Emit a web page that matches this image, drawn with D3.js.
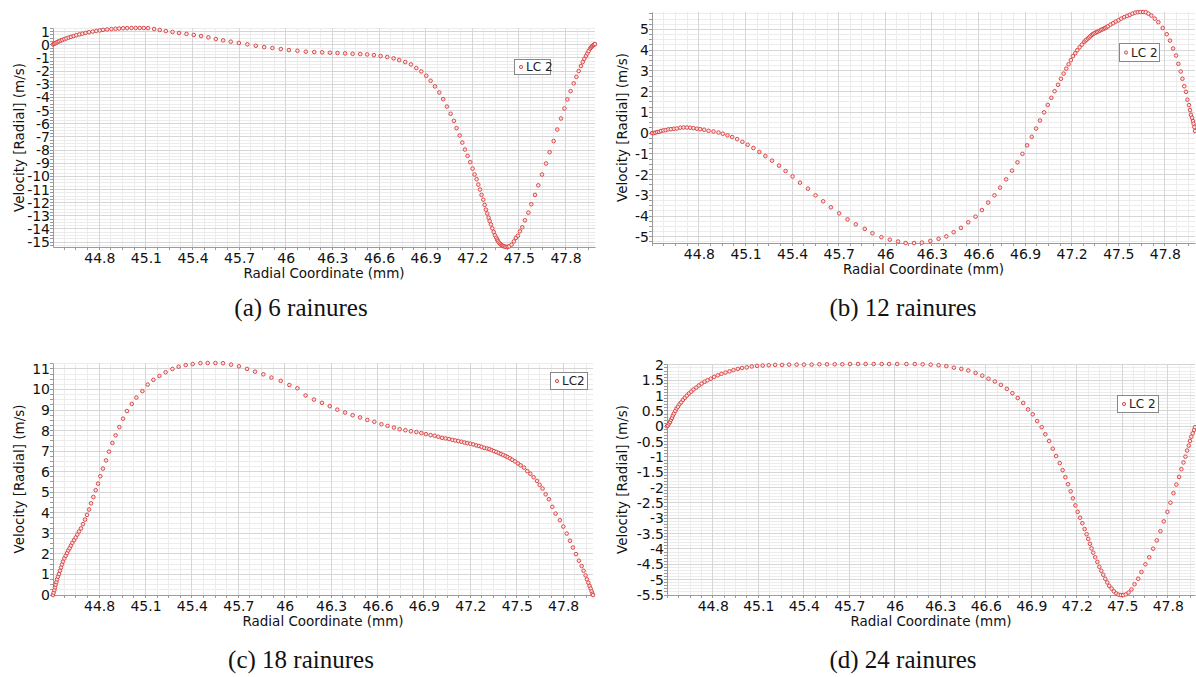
<!DOCTYPE html>
<html><head><meta charset="utf-8">
<script src="https://cdn.jsdelivr.net/npm/d3@7"></script>
<style>body{margin:0;background:#fff}svg{display:block}</style>
</head><body>
<svg id="c" width="1196" height="677"></svg>
<script>
// ---------- data ----------
const dataA = [
[44.502,0.03],[44.509,0.08],[44.515,0.12],[44.524,0.17],[44.532,0.22],[44.541,0.27],[44.552,0.32],[44.562,0.37],[44.575,0.43],[44.588,0.49],
[44.603,0.55],[44.618,0.61],[44.635,0.67],[44.652,0.73],[44.672,0.79],[44.691,0.85],[44.712,0.91],[44.734,0.96],[44.758,1.01],[44.781,1.06],
[44.803,1.10],[44.824,1.14],[44.850,1.17],[44.878,1.20],[44.904,1.22],[44.927,1.24],[44.953,1.26],[44.979,1.27],[45.007,1.28],[45.034,1.28],
[45.060,1.28],[45.086,1.28],[45.114,1.27],[45.153,1.20],[45.189,1.13],[45.228,1.05],[45.271,0.98],[45.313,0.90],[45.361,0.83],[45.408,0.75],
[45.455,0.67],[45.502,0.57],[45.550,0.44],[45.597,0.34],[45.646,0.24],[45.698,0.14],[45.753,0.04],[45.807,-0.07],[45.861,-0.17],[45.914,-0.24],
[45.968,-0.32],[46.020,-0.40],[46.075,-0.45],[46.129,-0.52],[46.183,-0.55],[46.234,-0.57],[46.284,-0.60],[46.333,-0.62],[46.382,-0.65],[46.430,-0.68],
[46.479,-0.70],[46.524,-0.73],[46.567,-0.78],[46.610,-0.85],[46.653,-0.93],[46.694,-1.03],[46.730,-1.16],[46.769,-1.31],[46.805,-1.49],[46.840,-1.77],
[46.872,-2.02],[46.904,-2.35],[46.932,-2.73],[46.960,-3.16],[46.988,-3.62],[47.013,-4.13],[47.037,-4.69],[47.061,-5.24],[47.082,-5.78],[47.099,-6.33],
[47.119,-6.89],[47.136,-7.43],[47.153,-7.96],[47.170,-8.44],[47.187,-8.92],[47.202,-9.41],[47.215,-9.86],[47.228,-10.22],[47.239,-10.62],[47.250,-11.00],
[47.260,-11.41],[47.271,-11.77],[47.280,-12.17],[47.288,-12.53],[47.297,-12.83],[47.305,-13.14],[47.312,-13.39],[47.320,-13.65],[47.329,-13.95],[47.338,-14.23],
[47.346,-14.48],[47.355,-14.66],[47.360,-14.80],[47.365,-14.91],[47.371,-15.02],[47.378,-15.12],[47.384,-15.19],[47.391,-15.24],[47.397,-15.29],[47.404,-15.32],
[47.412,-15.35],[47.421,-15.37],[47.430,-15.35],[47.438,-15.32],[47.453,-15.19],[47.468,-14.94],[47.481,-14.68],[47.494,-14.51],[47.507,-14.18],[47.522,-13.87],
[47.539,-13.34],[47.561,-12.76],[47.580,-12.12],[47.604,-11.41],[47.625,-10.68],[47.649,-9.86],[47.675,-9.02],[47.698,-8.16],[47.724,-7.32],[47.747,-6.44],
[47.771,-5.60],[47.793,-4.84],[47.812,-4.15],[47.833,-3.52],[47.853,-2.93],[47.870,-2.43],[47.885,-1.99],[47.900,-1.61],[47.911,-1.31],[47.921,-1.06],
[47.932,-0.85],[47.941,-0.65],[47.949,-0.47],[47.958,-0.29],[47.964,-0.20],[47.969,-0.14],[47.974,-0.08],[47.979,-0.02],[47.985,0.02],[47.990,0.06]
];
const dataB = [
[44.498,0.00],[44.509,0.00],[44.519,0.02],[44.530,0.05],[44.543,0.06],[44.556,0.10],[44.571,0.13],[44.586,0.14],[44.603,0.18],[44.620,0.19],
[44.639,0.21],[44.658,0.22],[44.680,0.26],[44.701,0.27],[44.723,0.27],[44.744,0.26],[44.765,0.24],[44.787,0.21],[44.808,0.19],[44.834,0.16],
[44.862,0.11],[44.894,0.08],[44.926,0.03],[44.954,-0.03],[44.984,-0.11],[45.014,-0.19],[45.046,-0.29],[45.080,-0.42],[45.114,-0.56],[45.151,-0.72],
[45.189,-0.91],[45.228,-1.11],[45.271,-1.33],[45.316,-1.57],[45.358,-1.83],[45.403,-2.09],[45.451,-2.39],[45.502,-2.68],[45.551,-3.00],[45.600,-3.29],
[45.650,-3.58],[45.703,-3.87],[45.757,-4.16],[45.810,-4.40],[45.868,-4.62],[45.917,-4.83],[45.975,-5.02],[46.029,-5.14],[46.082,-5.23],[46.131,-5.30],
[46.185,-5.30],[46.236,-5.28],[46.290,-5.20],[46.343,-5.10],[46.393,-4.98],[46.440,-4.78],[46.487,-4.57],[46.534,-4.30],[46.581,-4.03],[46.622,-3.71],
[46.662,-3.35],[46.703,-3.00],[46.739,-2.63],[46.778,-2.23],[46.816,-1.81],[46.851,-1.41],[46.883,-1.00],[46.913,-0.59],[46.943,-0.18],[46.971,0.22],
[46.996,0.61],[47.022,1.00],[47.046,1.36],[47.069,1.70],[47.090,2.02],[47.112,2.33],[47.131,2.62],[47.148,2.87],[47.165,3.11],[47.180,3.32],
[47.195,3.52],[47.208,3.71],[47.223,3.85],[47.236,4.00],[47.251,4.14],[47.266,4.27],[47.281,4.40],[47.289,4.46],[47.296,4.51],[47.305,4.57],
[47.313,4.62],[47.321,4.68],[47.330,4.74],[47.338,4.78],[47.347,4.82],[47.355,4.85],[47.364,4.88],[47.373,4.91],[47.382,4.94],[47.390,4.98],
[47.399,5.01],[47.408,5.04],[47.416,5.07],[47.425,5.11],[47.433,5.15],[47.450,5.23],[47.467,5.30],[47.484,5.38],[47.502,5.44],[47.519,5.52],
[47.538,5.59],[47.557,5.65],[47.574,5.70],[47.591,5.76],[47.609,5.81],[47.626,5.83],[47.643,5.84],[47.660,5.84],[47.677,5.83],[47.694,5.76],
[47.713,5.67],[47.735,5.52],[47.758,5.35],[47.786,5.07],[47.812,4.77],[47.833,4.46],[47.853,4.08],[47.872,3.74],[47.887,3.34],[47.902,2.97],
[47.913,2.62],[47.925,2.26],[47.936,1.99],[47.945,1.61],[47.955,1.35],[47.962,1.11],[47.968,0.88],[47.975,0.74],[47.981,0.58],[47.985,0.45],
[47.990,0.29],[47.994,0.10]
];
const dataC = [
[44.502,0.00],[44.506,0.11],[44.511,0.24],[44.515,0.37],[44.519,0.50],[44.524,0.63],[44.528,0.76],[44.534,0.89],[44.541,1.02],[44.547,1.18],
[44.554,1.34],[44.560,1.49],[44.567,1.63],[44.575,1.78],[44.584,1.91],[44.593,2.04],[44.601,2.17],[44.610,2.28],[44.618,2.41],[44.627,2.54],
[44.638,2.67],[44.649,2.80],[44.659,2.94],[44.670,3.09],[44.683,3.24],[44.696,3.45],[44.709,3.67],[44.722,3.90],[44.735,4.16],[44.748,4.46],
[44.763,4.77],[44.778,5.10],[44.793,5.42],[44.808,5.78],[44.825,6.15],[44.845,6.55],[44.864,6.98],[44.886,7.40],[44.907,7.77],[44.931,8.17],
[44.955,8.58],[44.980,8.95],[45.011,9.30],[45.041,9.61],[45.080,9.92],[45.114,10.24],[45.151,10.47],[45.190,10.66],[45.230,10.84],[45.274,11.00],
[45.314,11.11],[45.360,11.19],[45.405,11.24],[45.455,11.28],[45.502,11.29],[45.552,11.29],[45.601,11.28],[45.653,11.21],[45.704,11.13],[45.756,11.00],
[45.808,10.87],[45.862,10.74],[45.914,10.58],[45.974,10.42],[46.030,10.22],[46.082,10.06],[46.135,9.71],[46.189,9.51],[46.241,9.35],[46.291,9.19],
[46.340,9.02],[46.390,8.88],[46.439,8.75],[46.487,8.64],[46.534,8.52],[46.579,8.43],[46.625,8.31],[46.665,8.23],[46.706,8.15],[46.743,8.07],
[46.780,8.02],[46.816,7.97],[46.851,7.93],[46.883,7.88],[46.913,7.83],[46.943,7.78],[46.969,7.75],[46.993,7.70],[47.017,7.65],[47.040,7.62],
[47.062,7.59],[47.084,7.55],[47.103,7.52],[47.122,7.49],[47.142,7.46],[47.161,7.42],[47.180,7.39],[47.200,7.36],[47.219,7.33],[47.239,7.28],
[47.256,7.25],[47.273,7.21],[47.290,7.16],[47.308,7.13],[47.323,7.10],[47.338,7.05],[47.353,7.00],[47.368,6.96],[47.383,6.91],[47.398,6.86],
[47.413,6.81],[47.428,6.76],[47.441,6.71],[47.456,6.65],[47.471,6.58],[47.489,6.50],[47.508,6.40],[47.525,6.31],[47.547,6.20],[47.568,6.03],
[47.588,5.90],[47.609,5.73],[47.631,5.55],[47.648,5.36],[47.667,5.18],[47.687,4.90],[47.708,4.66],[47.730,4.29],[47.751,3.96],[47.779,3.64],
[47.801,3.33],[47.823,2.99],[47.844,2.64],[47.863,2.31],[47.883,1.99],[47.902,1.67],[47.920,1.41],[47.932,1.18],[47.945,0.95],[47.954,0.76],
[47.963,0.60],[47.971,0.44],[47.978,0.31],[47.984,0.18],[47.989,0.06],[47.993,0.00]
];
const dataD = [
[44.498,0.00],[44.504,0.03],[44.511,0.09],[44.518,0.14],[44.524,0.21],[44.531,0.27],[44.537,0.35],[44.544,0.42],[44.553,0.50],[44.561,0.58],
[44.570,0.64],[44.581,0.72],[44.592,0.78],[44.603,0.86],[44.616,0.93],[44.629,1.00],[44.643,1.07],[44.658,1.13],[44.673,1.20],[44.691,1.26],
[44.708,1.33],[44.726,1.39],[44.746,1.45],[44.765,1.50],[44.787,1.55],[44.809,1.61],[44.833,1.66],[44.857,1.71],[44.884,1.75],[44.910,1.79],
[44.936,1.83],[44.965,1.87],[44.993,1.90],[45.024,1.92],[45.057,1.95],[45.092,1.97],[45.129,1.98],[45.169,1.99],[45.211,2.00],[45.257,2.00],
[45.303,2.01],[45.353,2.01],[45.401,2.01],[45.452,2.01],[45.503,2.02],[45.553,2.02],[45.604,2.02],[45.654,2.02],[45.705,2.03],[45.758,2.03],
[45.808,2.03],[45.861,2.03],[45.914,2.03],[45.963,2.03],[46.016,2.03],[46.077,2.03],[46.132,2.03],[46.184,2.02],[46.237,2.01],[46.289,1.99],
[46.340,1.96],[46.390,1.91],[46.439,1.87],[46.485,1.82],[46.533,1.74],[46.577,1.65],[46.618,1.55],[46.660,1.46],[46.700,1.35],[46.739,1.22],
[46.776,1.08],[46.811,0.92],[46.847,0.76],[46.879,0.55],[46.910,0.39],[46.939,0.17],[46.969,-0.03],[46.993,-0.26],[47.018,-0.48],[47.042,-0.73],
[47.064,-0.97],[47.088,-1.20],[47.107,-1.43],[47.125,-1.66],[47.143,-1.89],[47.160,-2.12],[47.175,-2.35],[47.191,-2.58],[47.206,-2.79],[47.222,-2.98],
[47.237,-3.16],[47.252,-3.35],[47.265,-3.52],[47.276,-3.67],[47.287,-3.83],[47.298,-3.98],[47.309,-4.12],[47.322,-4.27],[47.336,-4.42],[47.349,-4.58],
[47.362,-4.71],[47.375,-4.84],[47.388,-4.97],[47.401,-5.09],[47.414,-5.20],[47.430,-5.29],[47.445,-5.38],[47.461,-5.45],[47.476,-5.49],[47.491,-5.50],
[47.507,-5.50],[47.524,-5.48],[47.542,-5.42],[47.561,-5.32],[47.581,-5.15],[47.605,-4.97],[47.627,-4.75],[47.653,-4.50],[47.678,-4.27],[47.704,-3.99],
[47.728,-3.72],[47.752,-3.42],[47.774,-3.10],[47.798,-2.79],[47.818,-2.49],[47.838,-2.18],[47.857,-1.90],[47.875,-1.65],[47.890,-1.40],[47.904,-1.18],
[47.917,-0.99],[47.928,-0.79],[47.939,-0.63],[47.947,-0.48],[47.956,-0.34],[47.965,-0.23],[47.974,-0.12],[47.980,-0.03]
];
const xTickLabels = [44.8,45.1,45.4,45.7,46,46.3,46.6,46.9,47.2,47.5,47.8];
const yTicksA = [1,0,-1,-2,-3,-4,-5,-6,-7,-8,-9,-10,-11,-12,-13,-14,-15];
const yTicksB = [5,4,3,2,1,0,-1,-2,-3,-4,-5];
const yTicksC = [0,1,2,3,4,5,6,7,8,9,10,11];
const yTicksD = [2,1.5,1,0.5,0,-0.5,-1,-1.5,-2,-2.5,-3,-3.5,-4,-4.5,-5,-5.5];
const seriesNames = ["LC 2","LC 2","LC2","LC 2"];
const captions = ["(a) 6 rainures","(b) 12 rainures","(c) 18 rainures","(d) 24 rainures"];
const xTitle = "Radial Coordinate (mm)";
const yTitle = "Velocity [Radial] (m/s)";

// ---------- layout ----------
const panels = [
  {data:dataA, yt:yTicksA, ymin:0.25, r:{l:53,r:595,t:28,b:247}, leg:{x:514,y:59,w:36,h:15}, cap:{x:301,y:316}, ytx:19},
  {data:dataB, yt:yTicksB, ymin:0.25, r:{l:652,r:1195,t:12,b:243}, leg:{x:1119,y:43,w:40,h:18}, cap:{x:903,y:316}, ytx:622},
  {data:dataC, yt:yTicksC, ymin:0.25, r:{l:53,r:593,t:363,b:595}, leg:{x:550,y:372,w:37,h:17}, cap:{x:301,y:668}, ytx:19},
  {data:dataD, yt:yTicksD, ymin:0.1, r:{l:667,r:1195,t:364,b:595}, leg:{x:1117,y:395,w:41,h:17}, cap:{x:903,y:668}, ytx:622}
];
const svg = d3.select("#c");
const SANS = "'DejaVu Sans', Verdana, sans-serif";

panels.forEach((p,i)=>{
  const R = p.r;
  const x = d3.scaleLinear().domain(d3.extent(p.data,d=>d[0])).range([R.l,R.r]);
  const y = d3.scaleLinear().domain(d3.extent(p.data,d=>d[1])).range([R.b,R.t]);
  const [x0,x1] = x.domain(), [y0,y1] = y.domain();
  const g = svg.append("g");
  // minor grid x (0.075 mm)
  const xm = []; for(let k=-4;k<=60;k++){const v=44.8+k*0.075; if(v>=x0-1e-9&&v<=x1+1e-9) xm.push(v);}
  const ym = []; for(let k=-400;k<=400;k++){const v=k*p.ymin; if(v>=y0-1e-9&&v<=y1+1e-9) ym.push(v);}
  g.selectAll(".gmx").data(xm).join("line").attr("x1",d=>x(d)).attr("x2",d=>x(d)).attr("y1",R.t).attr("y2",R.b)
    .attr("stroke","#ececec").attr("stroke-width",1).attr("shape-rendering","crispEdges");
  g.selectAll(".gmy").data(ym).join("line").attr("y1",d=>y(d)).attr("y2",d=>y(d)).attr("x1",R.l).attr("x2",R.r)
    .attr("stroke","#ececec").attr("stroke-width",1).attr("shape-rendering","crispEdges");
  // major grid
  g.selectAll(".gx").data(xTickLabels).join("line").attr("x1",d=>x(d)).attr("x2",d=>x(d)).attr("y1",R.t).attr("y2",R.b)
    .attr("stroke","#d6d6d6").attr("stroke-width",1).attr("shape-rendering","crispEdges");
  g.selectAll(".gy").data(p.yt).join("line").attr("y1",d=>y(d)).attr("y2",d=>y(d)).attr("x1",R.l).attr("x2",R.r)
    .attr("stroke","#d6d6d6").attr("stroke-width",1).attr("shape-rendering","crispEdges");
  // axes
  const xa = d3.axisBottom(x).tickValues(xTickLabels).tickSize(0).tickPadding(6).tickFormat(d=>String(d));
  const ya = d3.axisLeft(y).tickValues(p.yt).tickSize(0).tickPadding(3).tickFormat(d=>String(d).replace("-","-"));
  const gx = g.append("g").attr("transform",`translate(0,${R.b})`).call(xa);
  const gy = g.append("g").attr("transform",`translate(${R.l},0)`).call(ya);
  [gx,gy].forEach(a=>{a.select(".domain").attr("stroke","#9a9a9a");
    a.selectAll("text").attr("font-family",SANS).attr("font-size",14).attr("fill","#111");});
  // minor tick marks
  g.selectAll(".tmx").data(xm).join("line").attr("x1",d=>x(d)).attr("x2",d=>x(d)).attr("y1",R.b).attr("y2",R.b+3)
    .attr("stroke","#9a9a9a").attr("shape-rendering","crispEdges");
  g.selectAll(".tmy").data(ym).join("line").attr("y1",d=>y(d)).attr("y2",d=>y(d)).attr("x1",R.l-3).attr("x2",R.l)
    .attr("stroke","#9a9a9a").attr("shape-rendering","crispEdges");
  // titles
  g.append("text").attr("x",(R.l+R.r)/2).attr("y",R.b+31).attr("text-anchor","middle")
    .attr("font-family",SANS).attr("font-size",13.5).attr("fill","#111").text(xTitle);
  g.append("text").attr("transform",`translate(${p.ytx},${(R.t+R.b)/2}) rotate(-90)`).attr("dy","0.35em").attr("text-anchor","middle")
    .attr("font-family",SANS).attr("font-size",13.5).attr("fill","#111").text(yTitle);
  // points
  g.selectAll(".pt").data(p.data).join("circle").attr("cx",d=>x(d[0])).attr("cy",d=>y(d[1])).attr("r",1.8)
    .attr("fill","#fbe3e3").attr("stroke","#d83a3a").attr("stroke-width",0.9);
  // legend
  const L = p.leg;
  g.append("rect").attr("x",L.x+0.5).attr("y",L.y+0.5).attr("width",L.w).attr("height",L.h).attr("fill","#fff").attr("stroke","#888");
  g.append("circle").attr("cx",L.x+7).attr("cy",L.y+L.h/2+0.5).attr("r",1.6).attr("fill","#fbe3e3").attr("stroke","#d83a3a").attr("stroke-width",0.9);
  g.append("text").attr("x",L.x+12).attr("y",L.y+L.h/2+0.5).attr("dy","0.35em").attr("font-family",SANS).attr("font-size",12).attr("fill","#222").text(seriesNames[i]);
  // caption
  svg.append("text").attr("x",p.cap.x).attr("y",p.cap.y).attr("text-anchor","middle")
    .attr("font-family","'Liberation Serif','Times New Roman',serif").attr("font-size",25).attr("fill","#111").text(captions[i]);
});
</script>
</body></html>
